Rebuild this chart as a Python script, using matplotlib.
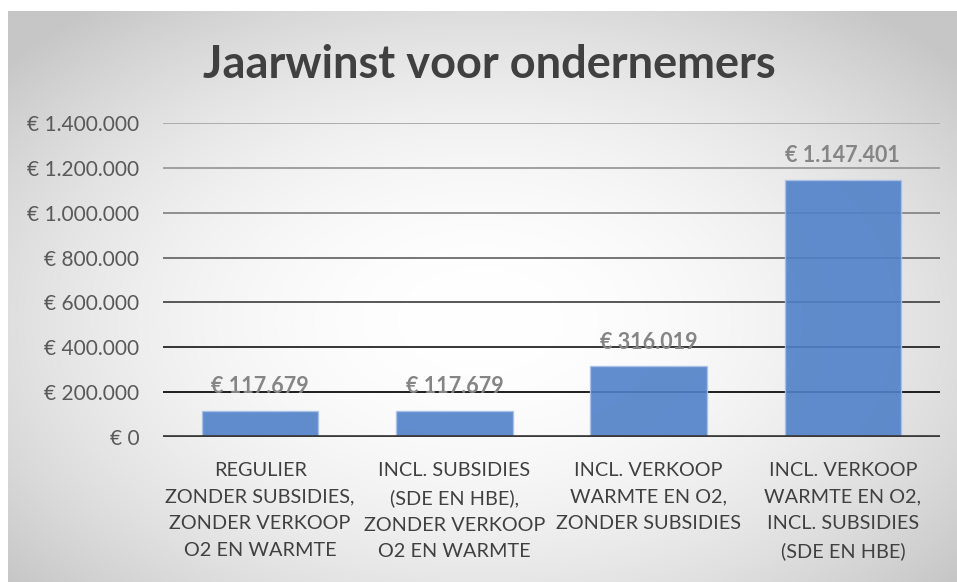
import numpy as np
import matplotlib
matplotlib.use("Agg")
import matplotlib.pyplot as plt
from matplotlib.ticker import FuncFormatter

categories = [
    "REGULIER\nZONDER SUBSIDIES,\nZONDER VERKOOP\nO2 EN WARMTE",
    "INCL. SUBSIDIES\n(SDE EN HBE),\nZONDER VERKOOP\nO2 EN WARMTE",
    "INCL. VERKOOP\nWARMTE EN O2,\nZONDER SUBSIDIES",
    "INCL. VERKOOP\nWARMTE EN O2,\nINCL. SUBSIDIES\n(SDE EN HBE)",
]
values = [117679, 117679, 316019, 1147401]
yticks = [0, 200000, 400000, 600000, 800000, 1000000, 1200000, 1400000]
title = "Jaarwinst voor ondernemers"

FONT = ["Lato", "DejaVu Sans"]
plt.rcParams["font.family"] = FONT

W, H = 957, 582
fig = plt.figure(figsize=(W / 100, H / 100), dpi=100)
fig.patch.set_facecolor("white")

# background radial gradient (chart area)
bx0, by0 = 8, 11
bg = fig.add_axes([bx0 / W, 0, 1 - bx0 / W, 1 - by0 / H])
bg.set_axis_off()
xs = np.arange(bx0, W)
ys = np.arange(by0, H)
X, Y = np.meshgrid(xs, ys)
cx, cy = 480, 320
d2 = ((X - cx) / 600.0) ** 2 + ((Y - cy) / 380.0) ** 2
v = np.clip(255 - 52 * d2, 198, 255) / 255.0
img = np.dstack([v, v, v])
bg.imshow(img, aspect="auto", extent=[0, 1, 0, 1], interpolation="bilinear")
bg.set_xlim(0, 1)
bg.set_ylim(0, 1)

ax_l, ax_r, ax_t, ax_b = 163, 940, 123, 437
ax = fig.add_axes([ax_l / W, 1 - ax_b / H, (ax_r - ax_l) / W, (ax_b - ax_t) / H])
ax.set_facecolor("none")
ax.set_xlim(-0.5, len(categories) - 0.5)
ax.set_ylim(0, 1400000)

# gridlines with darkening tone toward bottom
grid_colors = ["#404040", "#0d0d0d", "#262626", "#4a4a4a", "#6a6a6a", "#878787", "#9a9a9a", "#a8a8a8"]
for yv, c in zip(yticks[1:], grid_colors[1:]):
    ax.axhline(yv, color=c, lw=1.3, zorder=1)

x = np.arange(len(categories))
ax.bar(x, values, width=0.6, color="#5080c8", alpha=0.9, edgecolor="#a9c1e8",
       linewidth=1.0, zorder=2)
ax.axhline(0, color="#3a3a3a", lw=3.4, zorder=3)

for xi, val in zip(x, values):
    lbl = "€ " + f"{val:,}".replace(",", ".")
    ax.annotate(lbl, (xi, val), xytext=(0, 12.5), textcoords="offset points",
                ha="center", va="baseline", fontsize=15.5, fontweight="bold",
                color="#858585", zorder=4)

def fmt(v, pos):
    return "€ " + f"{int(v):,}".replace(",", ".")

ax.set_yticks(yticks)
ax.yaxis.set_major_formatter(FuncFormatter(fmt))
ax.set_xticks(x)
ax.set_xticklabels(categories, fontsize=14.3, color="#404040", linespacing=1.68)
ax.tick_params(axis="y", length=0, pad=17, labelsize=15, labelcolor="#595959")
ax.tick_params(axis="x", length=0, pad=18)
for s in ax.spines.values():
    s.set_visible(False)

fig.text(489 / W, 1 - 65 / H, title, ha="center", va="center", fontsize=32.5,
         fontweight="bold", color="#404040")

fig.savefig("out.png", dpi=100)
